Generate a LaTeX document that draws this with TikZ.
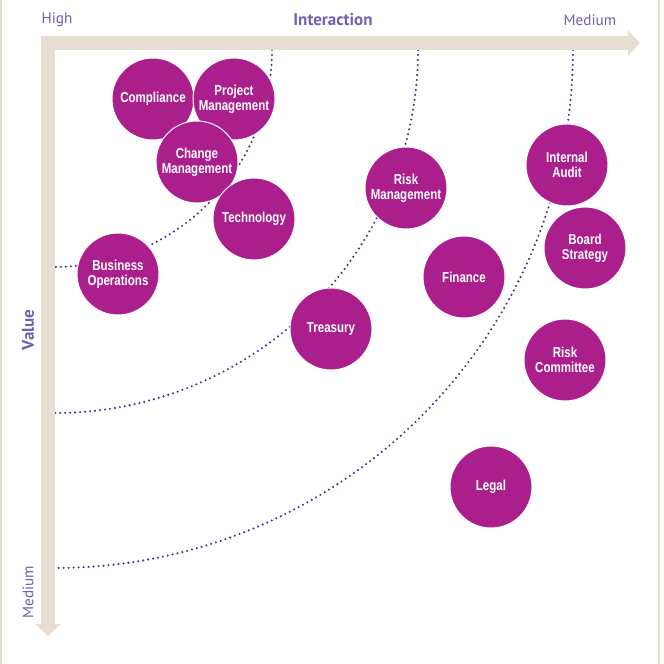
\documentclass[tikz,border=0pt]{standalone}
\usepackage{fontspec}
\setmainfont{PT Sans}
\newfontfamily\teamfont{Liberation Sans}[FakeStretch=0.8]
\usetikzlibrary{arrows.meta}
\definecolor{teamcol}{RGB}{170,31,139}
\definecolor{axiscol}{RGB}{230,222,208}
\definecolor{labelcol}{RGB}{112,96,176}
\definecolor{dotcol}{RGB}{84,44,140}

\begin{document}
\begin{tikzpicture}[x=0.03cm, y=-0.03cm,
    team/.style = {circle, fill=teamcol, draw=white, line width=0.03cm, minimum size=2.46cm, inner sep=0pt, text=white, align=center, font=\teamfont\bfseries\fontsize{12.3}{12.5}\selectfont},
    ring/.style = {dotcol, line width=0.07cm, line cap=round, dash pattern=on 0pt off 0.15cm},
    axis/.style = {axiscol, line width=0.42cm, line join=miter, {Triangle[length=0.36cm,width=0.75cm]}-{Triangle[length=0.36cm,width=0.75cm]}},
    tag/.style = {labelcol, font=\fontsize{13}{15}\selectfont},
    bigtag/.style = {labelcol, font=\bfseries\fontsize{14.5}{16}\selectfont}]
    \useasboundingbox (0,0) rectangle (663,664);
    \draw[axiscol, line width=0.06cm] (1,0) -- (1,664);
    \draw[axiscol, line width=0.06cm] (659,0) -- (659,664);
    % dotted rings
    \foreach \r in {217,363,518}
        \draw[ring] plot[domain=0:90, samples=60, smooth] ({55+\r*cos(\x)}, {50+\r*sin(\x)});
    \draw[axis] (640,43) -- (48,43) -- (48,636);
    % axis labels
    \node[tag] (high) at (57,20) {High};
    \node[bigtag] (inter) at (333,20) {Interaction};
    \node[tag] (medx) at (590,20) {Medium};
    \node[bigtag, rotate=90] (value) at (28,330) {Value};
    \node[tag, rotate=90] (medy) at (28,592) {Medium};
    % teams
    \node[team] (comp) at (153,99) {Compliance};
    \node[team] (proj) at (234,99) {Project\\Management};
    \node[team] (change) at (197,162) {Change\\Management};
    \node[team] (tech) at (254,219) {Technology};
    \node[team] (busops) at (118,274) {Business\\Operations};
    \node[team] (riskman) at (406,188) {Risk\\Management};
    \node[team] (treas) at (331,329) {Treasury};
    \node[team] (fin) at (464,277) {Finance};
    \node[team] (audit) at (567,165) {Internal\\Audit};
    \node[team] (board) at (585,248) {Board\\Strategy};
    \node[team] (riskcom) at (565,360) {Risk\\Committee};
    \node[team] (legal) at (491,487) {Legal};
\end{tikzpicture}
\end{document}
